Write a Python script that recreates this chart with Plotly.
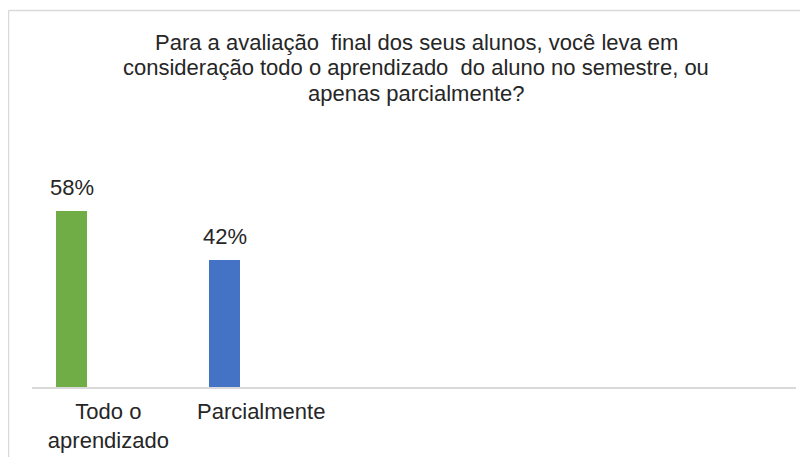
import plotly.graph_objects as go

categories = ["Todo o<br>aprendizado", "Parcialmente"]
values = [58, 42]
labels = ["58%", "42%"]
colors = ["#70AD47", "#4472C4"]
title_lines = [
    "Para a avaliação  final dos seus alunos, você leva em",
    "consideração todo o aprendizado  do aluno no semestre, ou",
    "apenas parcialmente?",
]

# page has an 8px body margin, so the figure is sized to fit the 808x457 window
OFF = 8
W, H = 808 - OFF, 457 - OFF
L, R, B = 32 - OFF, 12, 70
YMAX = 70
px_per = 3.034
T = int(round((H - B) - YMAX * px_per))

BAR_W = 0.204
BAR_OFF = -0.342

xs = list(range(len(categories)))

fig = go.Figure()
fig.add_trace(go.Bar(
    x=xs, y=values,
    marker=dict(color=colors, line=dict(width=0)),
    width=BAR_W, offset=BAR_OFF,
    hoverinfo="skip",
))

for xi, v, lab in zip(xs, values, labels):
    fig.add_annotation(x=xi + BAR_OFF + BAR_W / 2, y=v, text=lab, showarrow=False,
                       xref="x", yref="y", yanchor="bottom", yshift=9,
                       font=dict(size=22, color="#262626"))

plot_w = W - L - R
plot_h = H - T - B
def px2x(p):
    return (p - OFF - L) / plot_w
def py2y(p):
    return (H - B - (p - OFF)) / plot_h

for i, line in enumerate(title_lines):
    fig.add_annotation(x=px2x(416), y=py2y(43 + 25 * i), xref="paper", yref="paper",
                       text=line, showarrow=False, xanchor="center", yanchor="middle",
                       font=dict(size=22, color="#262626"))

fig.add_shape(type="line", xref="paper", yref="paper",
              x0=px2x(8.5), x1=px2x(8.5), y0=py2y(470), y1=py2y(10.5),
              line=dict(color="#d9d9d9", width=1.5))
fig.add_shape(type="line", xref="paper", yref="paper",
              x0=px2x(8.5), x1=px2x(820), y0=py2y(10.5), y1=py2y(10.5),
              line=dict(color="#d9d9d9", width=1.5))

fig.update_layout(
    width=W, height=H,
    margin=dict(l=L, r=R, t=T, b=B, autoexpand=False),
    paper_bgcolor="white", plot_bgcolor="white",
    font=dict(family="Liberation Sans, Arial, sans-serif", color="#262626"),
    showlegend=False,
    bargap=0,
    xaxis=dict(range=[-0.5, 4.5], tickmode="array", tickvals=xs, ticktext=categories,
               showline=True, linecolor="#d9d9d9", linewidth=1.5, automargin=False,
               showgrid=False, zeroline=False, ticks="", ticklabelstandoff=4,
               tickfont=dict(size=22, color="#262626")),
    yaxis=dict(range=[0, YMAX], visible=False, showgrid=False, zeroline=False,
               automargin=False),
)

fig.write_html("out.html")
